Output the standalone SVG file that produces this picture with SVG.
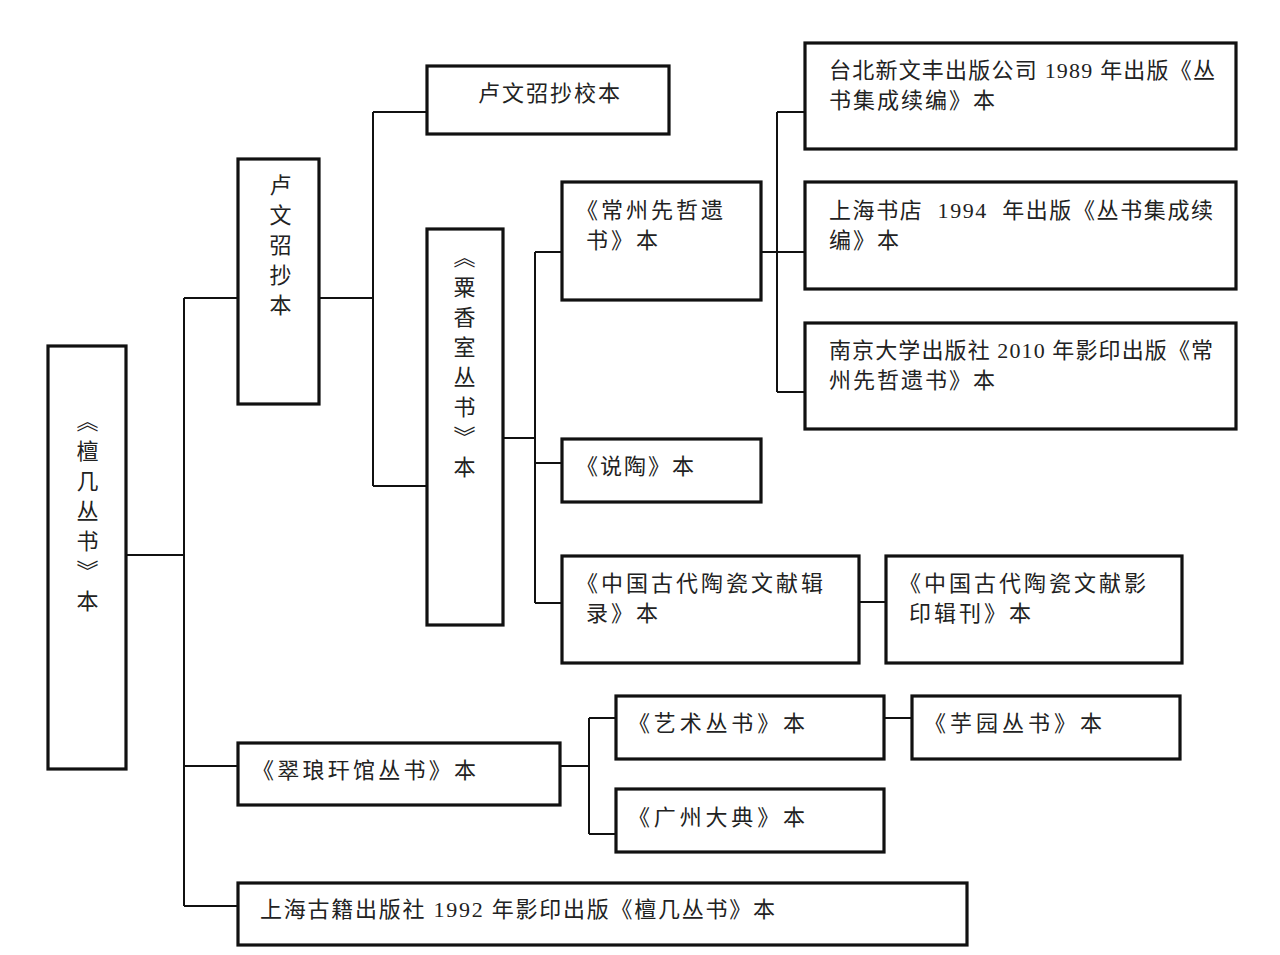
<svg xmlns="http://www.w3.org/2000/svg" width="1280" height="955" viewBox="0 0 1280 955">
<style>
.box{fill:#fff;stroke:#111;stroke-width:3.2}
.ln{fill:none;stroke:#111;stroke-width:2}
text{font-family:"Liberation Serif","Noto Sans CJK SC",serif;font-size:22px;fill:#222}
.v{writing-mode:vertical-rl;letter-spacing:8px}
</style>
<rect width="1280" height="955" fill="#fff"/>
<g id="connectors">
<path class="ln" d="M127 555H184M184 298V906M184 298H237M184 766H237M184 906H237"/>
<path class="ln" d="M319 298H373M373 112V486M373 112H426M373 486H426"/>
<path class="ln" d="M503 438H535M535 252V603M535 252H561M535 463H561M535 603H561"/>
<path class="ln" d="M761 252H804M777 112V392M777 112H804M777 392H804"/>
<path class="ln" d="M859 602H885"/>
<path class="ln" d="M561 766H589M589 718V834M589 718H615M589 834H615"/>
<path class="ln" d="M884 718H911"/>
</g>
<g id="root"><rect class="box" x="48" y="346" width="78" height="423"/><text class="v" x="85" y="410">《檀几丛书》本</text></g>
<g id="luwenchao"><rect class="box" x="238" y="159" width="81" height="245"/><text class="v" x="278" y="174">卢文弨抄本</text></g>
<g id="luwenchao-jiao"><rect class="box" x="427" y="66" width="242" height="68"/><text x="478" y="101" textLength="142">卢文弨抄校本</text></g>
<g id="suxiangshi"><rect class="box" x="427" y="229" width="76" height="396"/><text class="v" x="462" y="246">《粟香室丛书》本</text></g>
<g id="changzhou"><rect class="box" x="562" y="182" width="199" height="118"/><text x="576" y="218" letter-spacing="3">《常州先哲遗</text><text x="586" y="248" letter-spacing="3">书》本</text></g>
<g id="shuotao"><rect class="box" x="562" y="439" width="199" height="63"/><text x="576" y="474" letter-spacing="2">《说陶》本</text></g>
<g id="jilu"><rect class="box" x="562" y="556" width="297" height="107"/><text x="576" y="591" letter-spacing="3">《中国古代陶瓷文献辑</text><text x="586" y="621" letter-spacing="3">录》本</text></g>
<g id="yingyin"><rect class="box" x="886" y="556" width="296" height="107"/><text x="899" y="591" letter-spacing="3">《中国古代陶瓷文献影</text><text x="909" y="621" letter-spacing="3">印辑刊》本</text></g>
<g id="taibei"><rect class="box" x="805" y="43" width="431" height="106"/><text x="829" y="78" textLength="386">台北新文丰出版公司 1989 年出版《丛</text><text x="829" y="108" letter-spacing="2">书集成续编》本</text></g>
<g id="shanghaishudian"><rect class="box" x="805" y="182" width="431" height="107"/><text x="829" y="218" textLength="384">上海书店&#160; 1994&#160; 年出版《丛书集成续</text><text x="829" y="248" letter-spacing="2">编》本</text></g>
<g id="nanjing"><rect class="box" x="805" y="323" width="431" height="106"/><text x="829" y="358" textLength="384">南京大学出版社 2010 年影印出版《常</text><text x="829" y="388" letter-spacing="2">州先哲遗书》本</text></g>
<g id="cuilang"><rect class="box" x="238" y="743" width="322" height="62"/><text x="252" y="778" textLength="224">《翠琅玕馆丛书》本</text></g>
<g id="yishu"><rect class="box" x="616" y="696" width="268" height="63"/><text x="628" y="731" textLength="177">《艺术丛书》本</text></g>
<g id="yuyuan"><rect class="box" x="912" y="696" width="268" height="63"/><text x="924" y="731" textLength="178">《芋园丛书》本</text></g>
<g id="guangzhou"><rect class="box" x="616" y="789" width="268" height="63"/><text x="628" y="825" textLength="177">《广州大典》本</text></g>
<g id="shanghaiguji"><rect class="box" x="238" y="883" width="729" height="62"/><text x="260" y="917" textLength="515">上海古籍出版社 1992 年影印出版《檀几丛书》本</text></g>
</svg>
